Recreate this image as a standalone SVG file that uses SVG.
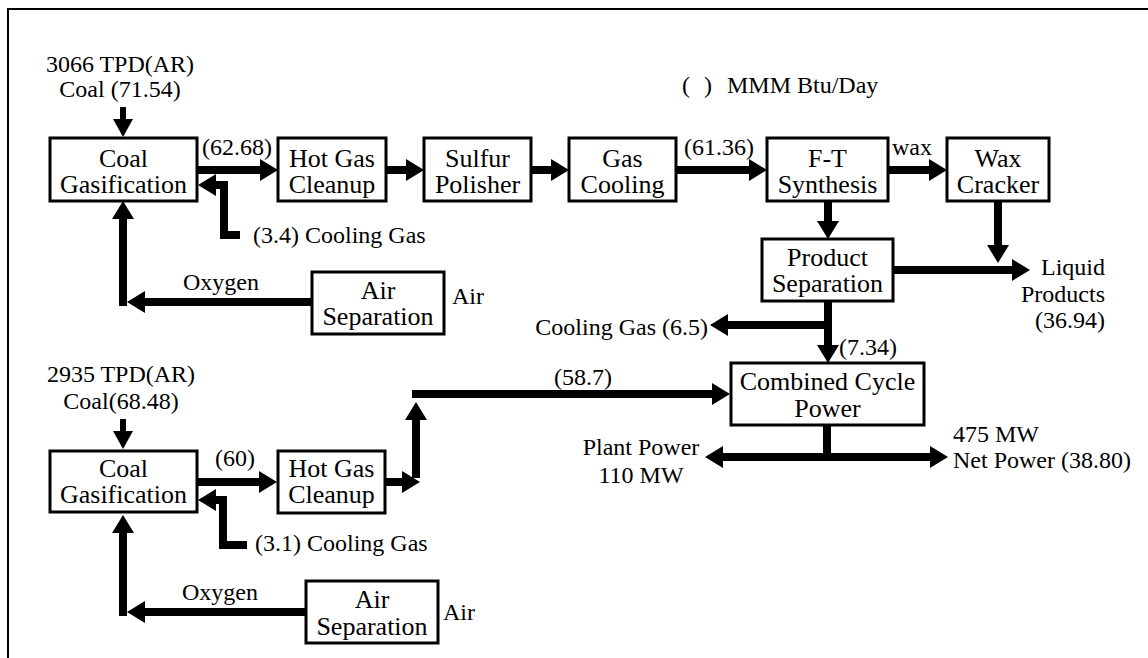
<svg xmlns="http://www.w3.org/2000/svg" width="1148" height="658" viewBox="0 0 1148 658">
<defs>
<style>
.box{fill:#fff;stroke:#000;stroke-width:3}
.bl{font-family:'Liberation Serif','Times New Roman',serif;font-size:26px;text-anchor:middle;fill:#000}
.t{font-family:'Liberation Serif','Times New Roman',serif;font-size:24px;fill:#000}
.m{text-anchor:middle}
.e{text-anchor:end}
.c{fill:none;stroke:#000;stroke-width:8;stroke-linejoin:miter;stroke-linecap:butt}
.thin{stroke-width:6}
.frame{fill:none;stroke:#000;stroke-width:2}
</style>
<marker id="ah" markerUnits="userSpaceOnUse" markerWidth="20" markerHeight="24" refX="0" refY="11" orient="auto" overflow="visible">
<path d="M0,0 L18,11 L0,22 Z" fill="#000"/>
</marker>
<marker id="ahs" markerUnits="userSpaceOnUse" markerWidth="20" markerHeight="22" refX="0" refY="10" orient="auto" overflow="visible">
<path d="M0,0 L18,10 L0,20 Z" fill="#000"/>
</marker>
</defs>
<rect width="1148" height="658" fill="#fff"/>
<path class="frame" d="M8,658 V9 H1148"/>

<g id="connectors">
<path class="c thin" d="M123,107 V119" marker-end="url(#ahs)"/>
<path class="c" d="M197,170 H260" marker-end="url(#ah)"/>
<path class="c" d="M386,170 H406" marker-end="url(#ah)"/>
<path class="c" d="M531,170 H551" marker-end="url(#ah)"/>
<path class="c" d="M676,170 H749" marker-end="url(#ah)"/>
<path class="c" d="M888,170 H929" marker-end="url(#ah)"/>
<path class="c" d="M828,201 V221" marker-end="url(#ah)"/>
<path class="c" d="M998,201 V245" marker-end="url(#ah)"/>
<path class="c" d="M893,270 H1012" marker-end="url(#ah)"/>
<path class="c" d="M828,301 V345" marker-end="url(#ah)"/>
<path class="c" d="M832,325 H728" marker-end="url(#ah)"/>
<path class="c" d="M240,235 H224 V185 H216" marker-end="url(#ah)"/>
<path class="c" d="M312,302 H145" marker-end="url(#ah)"/>
<path class="c" d="M123,306 V219" marker-end="url(#ah)"/>
<path class="c thin" d="M123,419 V431" marker-end="url(#ahs)"/>
<path class="c" d="M197,482 H259" marker-end="url(#ah)"/>
<path class="c" d="M385,482 H402" marker-end="url(#ah)"/>
<path class="c" d="M416,478 V420" marker-end="url(#ah)"/>
<path class="c" d="M412,394 H712" marker-end="url(#ah)"/>
<path class="c" d="M827,425 V461"/>
<path class="c" d="M831,457 H723" marker-end="url(#ah)"/>
<path class="c" d="M823,457 H930" marker-end="url(#ah)"/>
<path class="c" d="M247,545 H223 V500 H216" marker-end="url(#ah)"/>
<path class="c" d="M306,612 H145" marker-end="url(#ah)"/>
<path class="c" d="M123,616 V533" marker-end="url(#ah)"/>
</g>

<g id="coal-gasification-1">
<rect class="box" x="50" y="138" width="147" height="63"/>
<text class="bl" x="123.5" y="167">Coal</text>
<text class="bl" x="123.5" y="193">Gasification</text>
</g>
<g id="hot-gas-cleanup-1">
<rect class="box" x="278" y="138" width="108" height="63"/>
<text class="bl" x="332" y="167">Hot Gas</text>
<text class="bl" x="332" y="193">Cleanup</text>
</g>
<g id="sulfur-polisher">
<rect class="box" x="424" y="138" width="107" height="63"/>
<text class="bl" x="477.5" y="167">Sulfur</text>
<text class="bl" x="477.5" y="193">Polisher</text>
</g>
<g id="gas-cooling">
<rect class="box" x="569" y="138" width="107" height="63"/>
<text class="bl" x="622.5" y="167">Gas</text>
<text class="bl" x="622.5" y="193">Cooling</text>
</g>
<g id="ft-synthesis">
<rect class="box" x="767" y="138" width="121" height="63"/>
<text class="bl" x="827.5" y="167">F-T</text>
<text class="bl" x="827.5" y="193">Synthesis</text>
</g>
<g id="wax-cracker">
<rect class="box" x="947" y="138" width="102" height="63"/>
<text class="bl" x="998" y="167">Wax</text>
<text class="bl" x="998" y="193">Cracker</text>
</g>
<g id="product-separation">
<rect class="box" x="762" y="239" width="131" height="62"/>
<text class="bl" x="827.5" y="266">Product</text>
<text class="bl" x="827.5" y="292">Separation</text>
</g>
<g id="air-separation-1">
<rect class="box" x="312" y="272" width="132" height="62"/>
<text class="bl" x="378" y="299">Air</text>
<text class="bl" x="378" y="325">Separation</text>
</g>
<g id="combined-cycle-power">
<rect class="box" x="731" y="363" width="193" height="62"/>
<text class="bl" x="827.5" y="390">Combined Cycle</text>
<text class="bl" x="827.5" y="417">Power</text>
</g>
<g id="coal-gasification-2">
<rect class="box" x="50" y="451" width="147" height="61"/>
<text class="bl" x="123.5" y="477">Coal</text>
<text class="bl" x="123.5" y="503">Gasification</text>
</g>
<g id="hot-gas-cleanup-2">
<rect class="box" x="278" y="451" width="107" height="62"/>
<text class="bl" x="331.5" y="477">Hot Gas</text>
<text class="bl" x="331.5" y="503">Cleanup</text>
</g>
<g id="air-separation-2">
<rect class="box" x="306" y="581" width="132" height="62"/>
<text class="bl" x="372" y="608">Air</text>
<text class="bl" x="372" y="635">Separation</text>
</g>

<g id="labels">
<text class="t m" x="120" y="72">3066 TPD(AR)</text>
<text class="t m" x="120" y="97">Coal (71.54)</text>
<text class="t" x="202" y="155">(62.68)</text>
<text class="t" x="253" y="243">(3.4) Cooling Gas</text>
<text class="t" x="183" y="290">Oxygen</text>
<text class="t" x="452" y="304">Air</text>
<text class="t" y="93"><tspan x="682">(</tspan><tspan x="704">)</tspan><tspan x="727">MMM Btu/Day</tspan></text>
<text class="t" x="684" y="155">(61.36)</text>
<text class="t" x="892" y="155">wax</text>
<text class="t e" x="1105" y="275">Liquid</text>
<text class="t e" x="1105" y="302">Products</text>
<text class="t e" x="1105" y="328">(36.94)</text>
<text class="t e" x="708" y="335">Cooling Gas (6.5)</text>
<text class="t" x="839" y="355">(7.34)</text>
<text class="t m" x="121" y="382">2935 TPD(AR)</text>
<text class="t m" x="121" y="409">Coal(68.48)</text>
<text class="t" x="215" y="466">(60)</text>
<text class="t" x="255" y="551">(3.1) Cooling Gas</text>
<text class="t" x="182" y="600">Oxygen</text>
<text class="t" x="443" y="620">Air</text>
<text class="t e" x="612" y="385">(58.7)</text>
<text class="t m" x="641" y="455">Plant Power</text>
<text class="t m" x="641" y="483">110 MW</text>
<text class="t" x="953" y="442">475 MW</text>
<text class="t" x="953" y="468">Net Power (38.80)</text>
</g>
</svg>
